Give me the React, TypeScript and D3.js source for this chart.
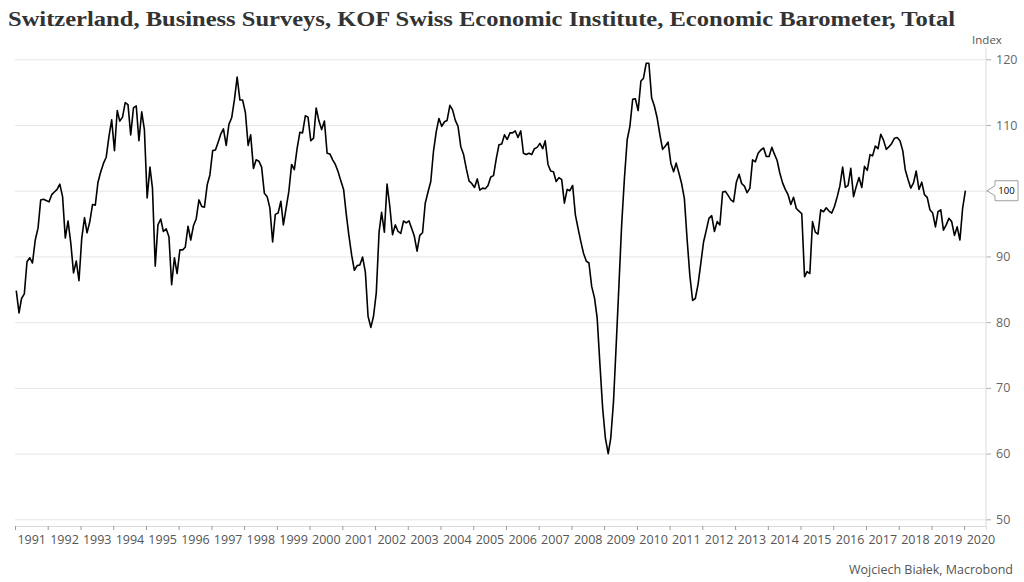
import React, { useEffect, useRef } from "react";
import * as d3 from "d3";

// KOF Economic Barometer, monthly, Jan 1991 .. Jan 2020
const values1991to1999 = [
  84.8, 81.4, 83.6, 84.3, 89.2, 89.8, 89.0, 92.5, 94.3, 98.6, 98.7, 98.5,
  98.3, 99.4, 99.8, 100.2, 101.0, 99.1, 92.8, 95.4, 92.0, 87.5, 89.3, 86.3,
  92.8, 95.9, 93.6, 95.3, 97.9, 97.8, 101.3, 102.9, 104.2, 105.1, 108.3, 110.8,
  106.1, 112.2, 110.6, 111.2, 113.4, 113.1, 108.5, 112.6, 112.9, 107.6, 112.0, 109.3,
  98.9, 103.6, 100.4, 88.5, 94.8, 95.7, 93.8, 94.2, 93.0, 85.7, 89.8, 87.4,
  91.0, 91.0, 91.4, 94.6, 92.5, 94.7, 95.7, 98.6, 97.6, 97.5, 100.9, 102.4,
  106.1, 106.2, 107.3, 108.6, 109.4, 106.9, 110.1, 111.1, 113.9, 117.3, 113.8, 113.8,
  111.9, 106.9, 108.5, 103.4, 104.7, 104.5, 103.6, 99.6, 99.1, 97.4, 92.2, 96.4,
  96.6, 98.4, 94.8, 97.4, 99.9, 104.0, 103.2, 106.4, 108.9, 108.8, 111.4, 111.2,
];
const values2000to2009 = [
  107.6, 108.0, 112.6, 110.6, 109.3, 110.6, 105.7, 105.6, 104.7, 104.0, 102.9, 101.5,
  100.2, 96.3, 93.2, 90.2, 87.9, 88.6, 88.7, 89.9, 87.6, 80.9, 79.2, 80.9,
  84.5, 93.7, 96.7, 93.7, 101.0, 97.6, 93.3, 94.8, 93.8, 93.5, 95.4, 95.1,
  95.4, 94.2, 93.1, 90.8, 93.2, 93.6, 98.1, 99.8, 101.4, 106.0, 109.0, 111.0,
  109.8, 110.5, 110.7, 113.0, 112.3, 110.7, 109.8, 106.7, 105.5, 103.4, 101.5, 101.1,
  100.5, 101.8, 100.1, 100.4, 100.3, 100.8, 102.1, 102.3, 104.9, 107.0, 107.1, 108.5,
  107.8, 108.8, 108.8, 109.1, 108.1, 109.1, 105.7, 105.5, 105.7, 105.5, 106.4, 106.6,
  107.2, 106.4, 107.6, 104.0, 103.0, 102.9, 101.4, 102.0, 101.7, 98.1, 100.2, 100.0,
  100.8, 96.3, 94.3, 92.3, 90.5, 89.3, 89.0, 85.4, 83.7, 80.6, 73.5, 66.9,
  62.3, 60.0, 62.3, 67.9, 76.5, 85.7, 94.8, 101.9, 107.8, 109.8, 113.9, 114.0,
];
const values2010to2020 = [
  112.2, 116.7, 117.1, 119.4, 119.4, 114.1, 112.9, 111.1, 108.5, 106.3, 106.8, 107.4,
  104.2, 102.9, 104.2, 102.7, 101.1, 98.8, 92.7, 87.1, 83.3, 83.6, 85.8, 88.9,
  92.2, 94.0, 95.8, 96.2, 93.8, 95.3, 94.8, 99.8, 99.9, 99.3, 98.6, 98.3,
  101.3, 102.5, 101.1, 100.7, 99.7, 100.4, 104.7, 104.4, 105.7, 106.2, 106.5, 105.2,
  105.2, 106.6, 105.6, 104.6, 102.7, 101.2, 100.2, 99.4, 97.9, 99.0, 97.3, 96.9,
  96.5, 86.9, 87.7, 87.4, 95.3, 93.7, 93.4, 97.1, 96.8, 97.4, 96.9, 96.6,
  97.6, 99.1, 100.7, 103.6, 100.5, 100.8, 103.4, 99.1, 100.7, 102.0, 100.5, 103.7,
  103.1, 105.5, 105.3, 106.8, 106.4, 108.6, 107.7, 106.3, 106.7, 107.2, 108.0, 108.1,
  107.6, 106.1, 103.2, 101.7, 100.4, 101.2, 103.0, 100.2, 101.3, 99.4, 99.0, 97.1,
  96.6, 94.5, 96.8, 97.1, 94.0, 94.8, 95.8, 95.3, 93.2, 94.5, 92.5, 97.3,
  100.0,
];

const firstYear = 1991;
const yearLabels = d3.range(1991, 2021);
const yTicks = [50, 60, 70, 80, 90, 100, 110, 120];
const title =
  "Switzerland, Business Surveys, KOF Swiss Economic Institute, Economic Barometer, Total";
const unitLabel = "Index";
const sourceLabel = "Wojciech Białek, Macrobond";

const axisFont = "'Open Sans', 'DejaVu Sans', sans-serif";

const App: React.FC = () => {
  const svgRef = useRef<SVGSVGElement>(null);

  useEffect(() => {
    if (svgRef.current === null) return;
    const svg = d3.select(svgRef.current);
    svg.selectAll("*").remove();

    const values = [...values1991to1999, ...values2000to2009, ...values2010to2020];
    const data = values.map((v, i) => ({
      date: new Date(firstYear, i, 15),
      value: v
    }));
    const last = data[data.length - 1];
    const lastText = d3.format(".0f")(last.value);

    // plot frame
    const left = 15;
    const right = 986;
    const bottom = 526;

    const x = d3
      .scaleTime()
      .domain([new Date(1991, 0, 1), new Date(2020, 8, 1)])
      .range([left, right]);
    const y = d3.scaleLinear().domain([50, 120]).range([519.3, 59.3]);
    const top = y(121.7);

    // horizontal grid
    const grid = svg
      .append("g")
      .attr("transform", `translate(${right},0)`)
      .call(
        d3
          .axisLeft(y)
          .tickValues(yTicks)
          .tickSize(right - left)
          .tickFormat(() => "")
      );
    grid.select(".domain").remove();
    grid.selectAll("line").attr("stroke", "#e6e6e6");

    // right axis (the label at the last value is hidden behind the tag)
    const yAxis = svg
      .append("g")
      .attr("transform", `translate(${right},0)`)
      .call(
        d3
          .axisRight(y)
          .tickValues(yTicks)
          .tickSize(5)
          .tickPadding(5)
          .tickFormat(d => (String(d) === lastText ? "" : String(d)))
      );
    yAxis.select(".domain").remove();
    yAxis.selectAll("line").attr("stroke", "#b0b0b0");
    yAxis
      .selectAll("text")
      .attr("fill", "#666")
      .attr("font-size", 12.5)
      .attr("font-family", axisFont);
    svg
      .append("line")
      .attr("x1", right)
      .attr("x2", right)
      .attr("y1", top)
      .attr("y2", bottom)
      .attr("stroke", "#dcdcdc");

    // bottom axis: ticks at year starts, labels mid-year
    const xTicks = svg
      .append("g")
      .attr("transform", `translate(0,${bottom})`)
      .call(
        d3
          .axisBottom(x)
          .tickValues(yearLabels.map(yr => new Date(yr, 0, 1)))
          .tickSize(4)
          .tickFormat(() => "")
      );
    xTicks.select(".domain").attr("stroke", "#dcdcdc");
    xTicks.selectAll("line").attr("stroke", "#999");

    const xLabels = svg
      .append("g")
      .attr("transform", `translate(0,${bottom})`)
      .call(
        d3
          .axisBottom(x)
          .tickValues(yearLabels.map(yr => new Date(yr, 6, 1)))
          .tickSize(0)
          .tickPadding(9)
          .tickFormat(d => d3.timeFormat("%Y")(d as Date))
      );
    xLabels.select(".domain").remove();
    xLabels
      .selectAll("text")
      .attr("fill", "#555")
      .attr("font-size", 12.5)
      .attr("font-family", axisFont);

    // the series
    const line = d3
      .line<{ date: Date; value: number }>()
      .x(d => x(d.date))
      .y(d => y(d.value));
    svg
      .append("path")
      .datum(data)
      .attr("d", line)
      .attr("fill", "none")
      .attr("stroke", "#000")
      .attr("stroke-width", 1.6)
      .attr("stroke-linejoin", "round");

    // last value tag
    const ty = y(last.value);
    const tx = right + 1;
    svg
      .append("path")
      .attr(
        "d",
        `M${tx},${ty} L${tx + 8},${ty - 5} L${tx + 8},${ty - 10} L${tx + 31},${ty - 10} L${tx + 31},${ty + 10} L${tx + 8},${ty + 10} L${tx + 8},${ty + 5} Z`
      )
      .attr("fill", "#fff")
      .attr("stroke", "#888")
      .attr("stroke-width", 0.8);
    svg
      .append("text")
      .attr("x", tx + 19.5)
      .attr("y", ty)
      .attr("dy", "0.35em")
      .attr("text-anchor", "middle")
      .attr("font-size", 9.5)
      .attr("font-family", axisFont)
      .attr("fill", "#000")
      .text(lastText);

    // texts
    svg
      .append("text")
      .attr("x", 8)
      .attr("y", 26)
      .attr("font-family", "'Liberation Serif', 'DejaVu Serif', serif")
      .attr("font-weight", "bold")
      .attr("font-size", 22)
      .attr("fill", "#333")
      .attr("textLength", 947)
      .attr("lengthAdjust", "spacingAndGlyphs")
      .text(title);

    svg
      .append("text")
      .attr("x", 987)
      .attr("y", 44)
      .attr("text-anchor", "middle")
      .attr("font-size", 11.5)
      .attr("font-family", axisFont)
      .attr("fill", "#555")
      .text(unitLabel);

    svg
      .append("text")
      .attr("x", 1013)
      .attr("y", 574)
      .attr("text-anchor", "end")
      .attr("font-size", 12.5)
      .attr("font-family", axisFont)
      .attr("fill", "#555")
      .text(sourceLabel);
  }, []);

  return (
    <svg
      ref={svgRef}
      width={1024}
      height={582}
      style={{ position: "absolute", left: 0, top: 0, background: "#fff" }}
    />
  );
};

export default App;
